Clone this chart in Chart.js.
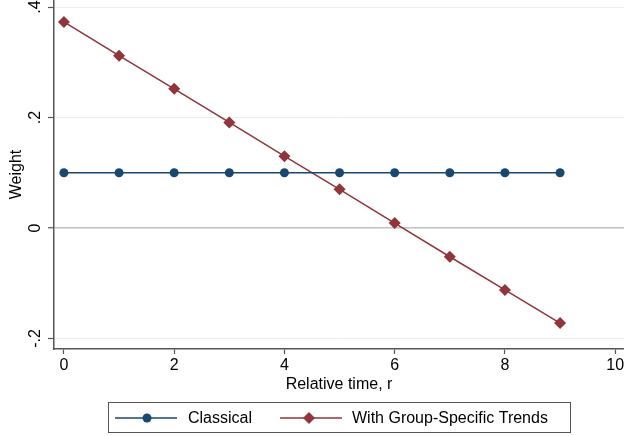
<!DOCTYPE html>
<html><head><meta charset="utf-8">
<script src="https://cdn.jsdelivr.net/npm/chart.js@4/dist/chart.umd.min.js"></script>
<style>html,body{margin:0;padding:0;background:#fff}#wrap{width:624px;height:436px;position:relative}</style>
</head><body><div id="wrap"><canvas id="c" width="624" height="436"></canvas></div>
<script>
const relTime = [0,1,2,3,4,5,6,7,8,9];
const classical = [0.1,0.1,0.1,0.1,0.1,0.1,0.1,0.1,0.1,0.1];
const groupTrends = [0.373,0.312,0.252,0.191,0.130,0.070,0.009,-0.052,-0.112,-0.172];
const xTicks = [0,2,4,6,8,10];
const yTicks = [-0.2,0,0.2,0.4];
const yTickLabels = ['-.2','0','.2','.4'];
const seriesNames = ['Classical','With Group-Specific Trends'];
const xTitle = 'Relative time, r';
const yTitle = 'Weight';

const NAVY = '#1a476f', MAROON = '#90353b', AXIS = '#555';
const FONT = '"Liberation Sans", Arial, Helvetica, sans-serif';

const extras = {
  id: 'extras',
  afterDraw(chart) {
    const ctx = chart.ctx, ys = chart.scales.y, ca = chart.chartArea;
    ctx.save();
    ctx.fillStyle = '#000';
    ctx.font = '16px ' + FONT;
    ctx.textAlign = 'center'; ctx.textBaseline = 'middle';
    yTicks.forEach((v, i) => {
      const py = ys.getPixelForValue(v);
      ctx.save(); ctx.translate(36, py); ctx.rotate(-Math.PI / 2);
      ctx.fillText(yTickLabels[i], 0, 0); ctx.restore();
    });
    ctx.save(); ctx.translate(17, (ca.top + ca.bottom) / 2); ctx.rotate(-Math.PI / 2);
    ctx.fillText(yTitle, 0, 0); ctx.restore();
    ctx.fillText(xTitle, (ca.left + ca.right) / 2, 385);
    const bx = 108, by = 402, bw = 462, bh = 30;
    ctx.strokeStyle = AXIS; ctx.lineWidth = 1;
    ctx.strokeRect(bx + 0.5, by + 0.5, bw, bh);
    const ly = 418;
    const items = [
      {x0: 115, x1: 177, mx: 147, color: NAVY, style: 'circle', tx: 188, label: seriesNames[0]},
      {x0: 280, x1: 342, mx: 309, color: MAROON, style: 'rectRot', tx: 352, label: seriesNames[1]}
    ];
    ctx.textAlign = 'left';
    items.forEach(it => {
      ctx.strokeStyle = it.color; ctx.lineWidth = 1.5;
      ctx.beginPath(); ctx.moveTo(it.x0, ly); ctx.lineTo(it.x1, ly); ctx.stroke();
      ctx.fillStyle = it.color;
      ctx.beginPath();
      if (it.style === 'circle') { ctx.arc(it.mx, ly, 4.5, 0, Math.PI * 2); }
      else { const r = 6; ctx.moveTo(it.mx, ly - r); ctx.lineTo(it.mx + r, ly); ctx.lineTo(it.mx, ly + r); ctx.lineTo(it.mx - r, ly); ctx.closePath(); }
      ctx.fill();
      ctx.fillStyle = '#000';
      ctx.fillText(it.label, it.tx, ly + 1);
    });
    ctx.restore();
  }
};

new Chart(document.getElementById('c'), {
  type: 'line',
  data: {
    datasets: [
      {label: seriesNames[0], data: relTime.map((x, i) => ({x, y: classical[i]})),
       borderColor: NAVY, backgroundColor: NAVY, borderWidth: 1.5,
       pointStyle: 'circle', pointRadius: 4.5, pointBorderWidth: 0, pointHoverRadius: 4.5},
      {label: seriesNames[1], data: relTime.map((x, i) => ({x, y: groupTrends[i]})),
       borderColor: MAROON, backgroundColor: MAROON, borderWidth: 1.5,
       pointStyle: 'rectRot', pointRadius: 6, pointBorderWidth: 0, pointHoverRadius: 6}
    ]
  },
  options: {
    responsive: false, animation: false, devicePixelRatio: 1,
    layout: {padding: 0, autoPadding: false},
    plugins: {legend: {display: false}, tooltip: {enabled: false}},
    scales: {
      x: {
        type: 'linear', min: -0.18, max: 10.16,
        afterBuildTicks: s => { s.ticks = xTicks.map(v => ({value: v})); },
        afterFit: s => { s.height = 87; s.paddingLeft = 0; s.paddingRight = 0; s.paddingTop = 0; s.paddingBottom = 0; },
        grid: {drawOnChartArea: false, drawTicks: true, tickLength: 5, tickColor: AXIS, tickWidth: 1.2},
        border: {color: AXIS, width: 1.5},
        ticks: {color: '#000', font: {family: FONT, size: 16}, padding: 2, maxRotation: 0,
                callback: v => String(v)}
      },
      y: {
        type: 'linear', min: -0.219, max: 0.4127,
        afterBuildTicks: s => { s.ticks = yTicks.map(v => ({value: v})); },
        afterFit: s => { s.width = 54; s.paddingLeft = 0; s.paddingRight = 0; s.paddingTop = 0; s.paddingBottom = 0; },
        grid: {drawTicks: true, tickLength: 6,
               color: c => (c.tick && c.tick.value === 0) ? '#c0c0c0' : '#e8f0f1',
               lineWidth: c => (c.tick && c.tick.value === 0) ? 1.5 : 1,
               tickColor: AXIS, tickWidth: 1.2},
        border: {color: AXIS, width: 1.5},
        ticks: {display: false}
      }
    }
  },
  plugins: [extras]
});
</script></body></html>
